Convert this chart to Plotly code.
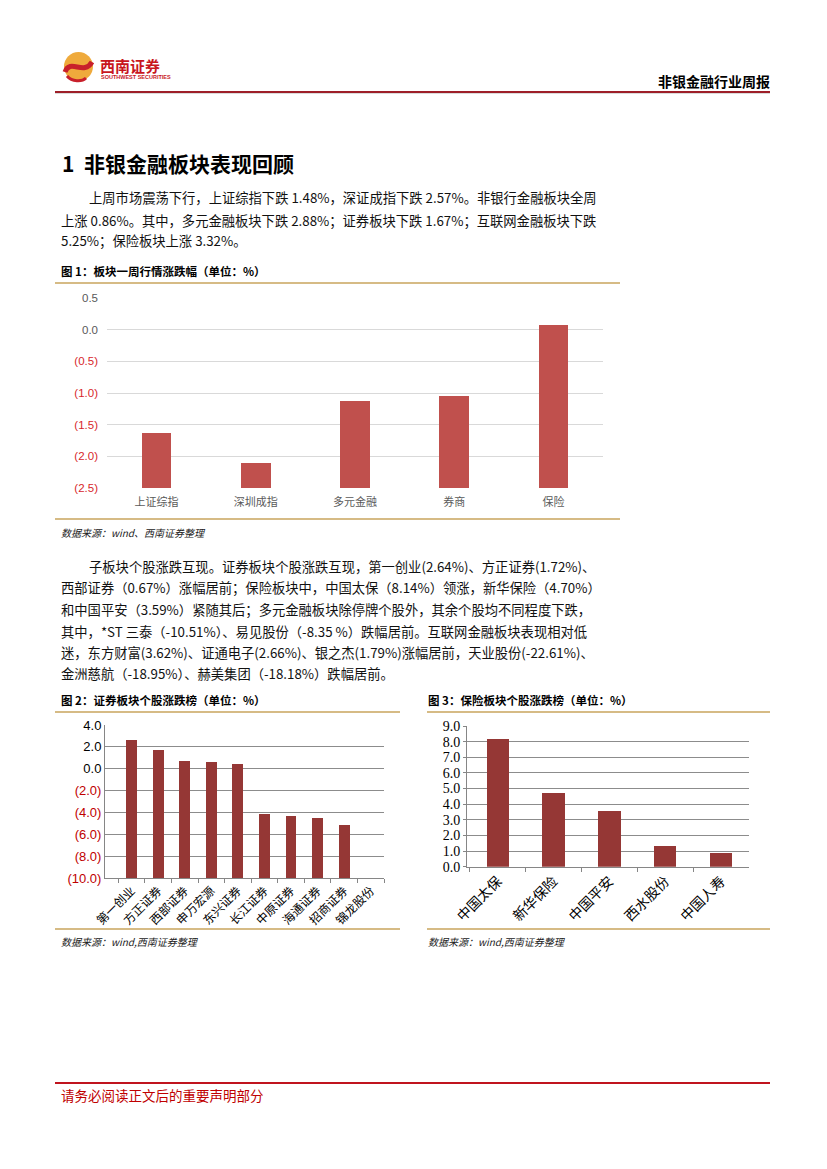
import plotly.graph_objects as go

W, H = 827, 1169

# ---------------- data ----------------
fig1_categories = ["上证综指", "深圳成指", "多元金融", "券商", "保险"]
fig1_values = [-1.63, -2.10, -1.13, -1.04, 0.07]
fig1_ticks = [0.5, 0.0, -0.5, -1.0, -1.5, -2.0, -2.5]
fig1_ticklabels = ["0.5", "0.0", "(0.5)", "(1.0)", "(1.5)", "(2.0)", "(2.5)"]

fig2_categories = ["第一创业", "方正证券", "西部证券", "申万宏源", "东兴证券",
                   "长江证券", "中原证券", "海通证券", "招商证券", "锦龙股份"]
fig2_values = [2.64, 1.72, 0.67, 0.65, 0.46, -4.13, -4.30, -4.50, -5.14, -10.0]
fig2_ticks = [4, 2, 0, -2, -4, -6, -8, -10]
fig2_ticklabels = ["4.0", "2.0", "0.0", "(2.0)", "(4.0)", "(6.0)", "(8.0)", "(10.0)"]

fig3_categories = ["中国太保", "新华保险", "中国平安", "西水股份", "中国人寿"]
fig3_values = [8.14, 4.70, 3.59, 1.32, 0.87]
fig3_ticks = [0, 1, 2, 3, 4, 5, 6, 7, 8, 9]
fig3_ticklabels = ["0.0", "1.0", "2.0", "3.0", "4.0", "5.0", "6.0", "7.0", "8.0", "9.0"]

para1 = [
    "上周市场震荡下行，上证综指下跌 1.48%，深证成指下跌 2.57%。非银行金融板块全周",
    "上涨 0.86%。其中，多元金融板块下跌 2.88%；证券板块下跌 1.67%；互联网金融板块下跌",
    "5.25%；保险板块上涨 3.32%。",
]
para2 = [
    "子板块个股涨跌互现。证券板块个股涨跌互现，第一创业(2.64%)、方正证券(1.72%)、",
    "西部证券（0.67%）涨幅居前；保险板块中，中国太保（8.14%）领涨，新华保险（4.70%）",
    "和中国平安（3.59%）紧随其后；多元金融板块除停牌个股外，其余个股均不同程度下跌，",
    "其中，*ST 三泰（-10.51%）、易见股份（-8.35 %）跌幅居前。互联网金融板块表现相对低",
    "迷，东方财富(3.62%)、证通电子(2.66%)、银之杰(1.79%)涨幅居前，天业股份(-22.61%)、",
    "金洲慈航（-18.95%）、赫美集团（-18.18%）跌幅居前。",
]

# ---------------- helpers ----------------
def px(x):
    return x / W


def py(y):
    return 1 - y / H


CJK = "Noto Sans CJK SC"
RED1 = "#D7262C"
RED2 = "#C00000"
GOLD = "#C9A45C"

fig = go.Figure()

# chart 1: bars rise from the axis floor (-2.5)
f1_min = -2.5
fig.add_trace(go.Bar(
    x=fig1_categories, y=[v - f1_min for v in fig1_values], base=f1_min,
    marker=dict(color="#C0504D", line=dict(width=0)), width=0.30,
    xaxis="x", yaxis="y", showlegend=False, hoverinfo="skip"))

f2_min = -10
fig.add_trace(go.Bar(
    x=fig2_categories, y=[v - f2_min for v in fig2_values], base=f2_min,
    marker=dict(color="#953735", line=dict(width=0)), width=0.41,
    xaxis="x2", yaxis="y2", showlegend=False, hoverinfo="skip"))

fig.add_trace(go.Bar(
    x=fig3_categories, y=fig3_values,
    marker=dict(color="#953735", line=dict(width=0)), width=0.40,
    xaxis="x3", yaxis="y3", showlegend=False, hoverinfo="skip"))

t1 = [lbl if v >= 0 else f"<span style='color:{RED1}'>{lbl}</span>"
      for v, lbl in zip(fig1_ticks, fig1_ticklabels)]
t2 = [lbl if v >= 0 else f"<span style='color:{RED2}'>{lbl}</span>"
      for v, lbl in zip(fig2_ticks, fig2_ticklabels)]

fig.update_layout(
    width=W, height=H, margin=dict(l=0, r=0, t=0, b=0, pad=0),
    autosize=False, showlegend=False,
    paper_bgcolor="white", plot_bgcolor="white",
    bargap=0,
    xaxis=dict(domain=[px(107), px(603)], range=[-0.5, 4.5], type="category",
               showgrid=False, showline=False, ticks="", fixedrange=True,
               automargin=False, ticklabelstandoff=6,
               tickfont=dict(family=CJK, size=11, color="#595959")),
    yaxis=dict(domain=[py(488), py(298)], range=[-2.5, 0.5], automargin=False,
               tickvals=fig1_ticks, ticktext=t1, showline=False, zeroline=False,
               gridcolor="#D9D9D9", gridwidth=1, ticks="", ticklabelstandoff=8,
               tickfont=dict(family="Liberation Sans", size=11.5, color="#595959")),
    xaxis2=dict(domain=[px(105), px(384)], range=[-1, 9.5], type="category",
                anchor="y2", showgrid=False, showline=True, linecolor="#868686",
                ticks="outside", tickson="boundaries", ticklen=4, tickcolor="#868686",
                tickangle=-45, automargin=False,
                tickfont=dict(family=CJK, size=12, color="#000000")),
    yaxis2=dict(domain=[py(878), py(725)], range=[-10, 4], anchor="x2",
                tickvals=fig2_ticks, ticktext=t2, showline=True, linecolor="#868686",
                zeroline=False, gridcolor="#8C8C8C", gridwidth=1, ticks="",
                automargin=False,
                tickfont=dict(family="Liberation Sans", size=13, color="#000000")),
    xaxis3=dict(domain=[px(467), px(749)], range=[-0.55, 4.5], type="category",
                anchor="y3", showgrid=False, showline=True, linecolor="#868686",
                ticks="outside", tickson="boundaries", ticklen=4, tickcolor="#868686",
                tickangle=-45, automargin=False,
                tickfont=dict(family=CJK, size=14, color="#000000")),
    yaxis3=dict(domain=[py(866.7), py(726)], range=[0, 9], anchor="x3",
                tickvals=fig3_ticks, ticktext=fig3_ticklabels, showline=True,
                linecolor="#868686", zeroline=False, gridcolor="#8C8C8C", gridwidth=1,
                ticks="outside", ticklen=3, tickcolor="#868686", automargin=False,
                tickfont=dict(family="Liberation Serif", size=14, color="#000000")),
)

shapes = []


def hline(x0, x1, y, color, width):
    shapes.append(dict(type="line", xref="paper", yref="paper",
                       x0=px(x0), x1=px(x1), y0=py(y), y1=py(y),
                       line=dict(color=color, width=width)))


# header / footer rules
hline(55, 770, 93, "#B8B8B8", 1)
hline(55, 770, 92, "#9E1F28", 2)
hline(55, 770, 1083, "#C0141E", 2)
# figure frames
hline(55, 620, 283, GOLD, 1.5)
hline(55, 620, 519, GOLD, 1.5)
hline(55, 400, 712, GOLD, 1.5)
hline(55, 400, 929, GOLD, 1.5)
hline(427, 770, 712, GOLD, 1.5)
hline(427, 770, 929, GOLD, 1.5)

# logo
shapes.append(dict(type="circle", xref="paper", yref="paper",
                   x0=px(64), x1=px(93), y0=py(81), y1=py(52),
                   fillcolor="#EFAA3C", line=dict(width=0)))
shapes.append(dict(type="path", xref="paper", yref="paper",
                   path=(f"M {px(65)},{py(72)} C {px(70)},{py(58)} {px(84)},{py(76)} "
                         f"{px(92)},{py(62)}"),
                   line=dict(color="#C8202B", width=5)))
shapes.append(dict(type="path", xref="paper", yref="paper",
                   path=(f"M {px(67)},{py(76)} C {px(72)},{py(82)} {px(82)},{py(82)} "
                         f"{px(86)},{py(78)}"),
                   line=dict(color="#C8202B", width=3)))
fig.update_layout(shapes=shapes)

ann = []


def text(x, y, s, size, color="#000000", family=CJK, anchor="left", bold=False,
         italic=False):
    if bold:
        s = f"<b>{s}</b>"
    if italic:
        s = f"<i>{s}</i>"
    ann.append(dict(x=px(x), y=py(y), xref="paper", yref="paper", text=s,
                    showarrow=False, xanchor=anchor, yanchor="middle",
                    borderpad=0,
                    font=dict(family=family, size=size, color=color)))


text(99, 65, "西南证券", 15, "#C8161D", bold=True)
text(100, 77, "SOUTHWEST SECURITIES", 5.5, "#C8161D", family="Liberation Sans", bold=True)
text(771, 81, "非银金融行业周报", 14, anchor="right", bold=True)

text(61, 163, "1  非银金融板块表现回顾", 21, bold=True)

ys1 = [198, 220, 241]
for i, (line, y) in enumerate(zip(para1, ys1)):
    text(88 if i == 0 else 60, y, line, 13.3, "#111111")

text(60, 271, "图 1：板块一周行情涨跌幅（单位：%）", 11.5, bold=True)
text(60, 532, "数据来源：wind、西南证券整理", 10, "#222222", italic=True)

ys2 = [566, 587.5, 609, 631, 652, 673]
for i, (line, y) in enumerate(zip(para2, ys2)):
    text(88 if i == 0 else 60, y, line, 13.3, "#111111")

text(60, 700, "图 2：证券板块个股涨跌榜（单位：%）", 11.5, bold=True)
text(427, 700, "图 3：保险板块个股涨跌榜（单位：%）", 11.5, bold=True)
text(60, 941, "数据来源：wind,西南证券整理", 10, "#222222", italic=True)
text(427, 941, "数据来源：wind,西南证券整理", 10, "#222222", italic=True)

text(60, 1095, "请务必阅读正文后的重要声明部分", 13.5, "#C00000")

fig.update_layout(annotations=ann)

fig.write_html(
    "out.html",
    config={"responsive": False, "displayModeBar": False},
    post_script=("document.documentElement.style.margin='0';"
                 "document.body.style.margin='0';"
                 "document.body.style.padding='0';"),
)
